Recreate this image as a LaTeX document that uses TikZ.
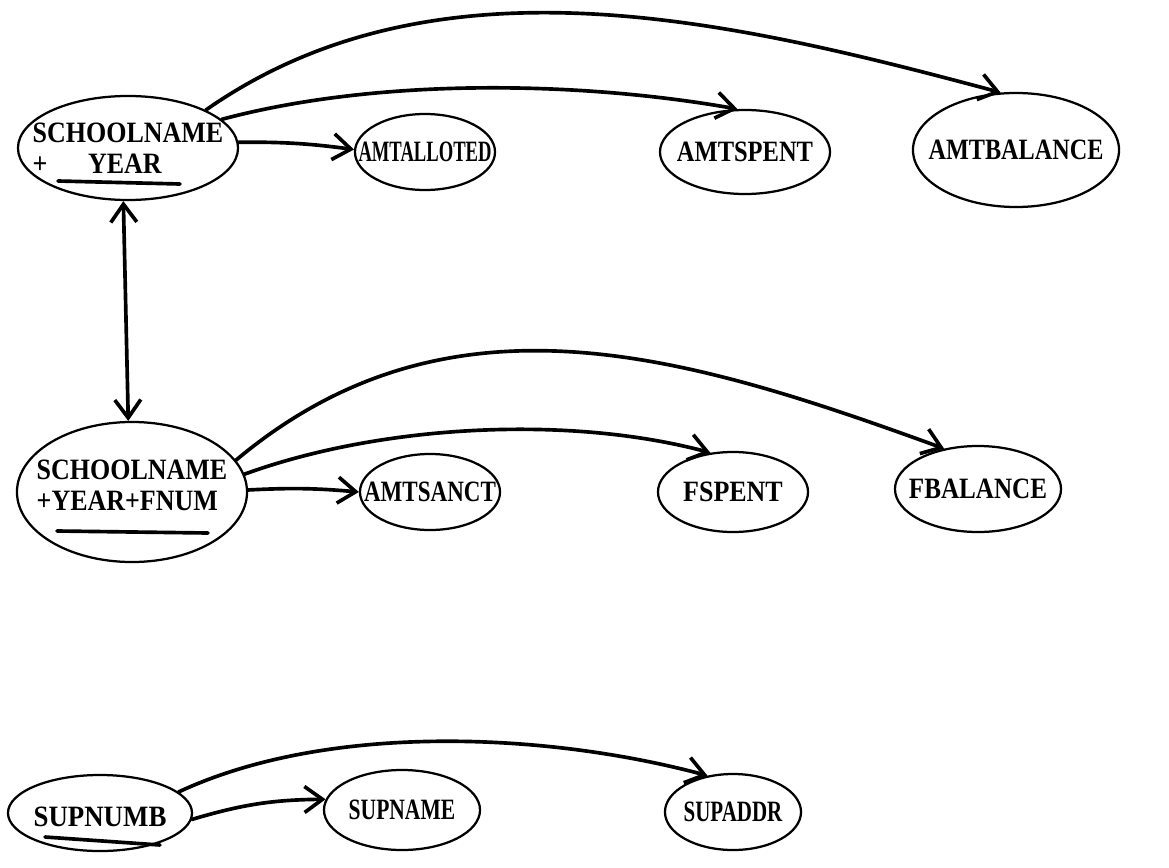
\documentclass[tikz,border=0pt]{standalone}
\usepackage{fontspec}
\usepackage{graphicx}
\usepackage{tikz}
\usetikzlibrary{shapes.geometric,arrows.meta}
\newfontfamily\labelfont{Liberation Serif}
\newcommand{\typed}[2]{\scalebox{#1}[1]{#2}}

\begin{document}
\begin{tikzpicture}[x=0.025cm, y=0.025cm,
    field/.style={ellipse, draw, line width=1.6pt, inner sep=0pt},
    every label/.style={inner sep=0pt, align=left,
      font={\labelfont\bfseries\fontsize{21pt}{22pt}\selectfont}},
    conn/.style={line width=2.6pt, line cap=round,
      -{Straight Barb[length=4.5mm,width=6.5mm]}},
    twoway/.style={line width=2.6pt, line cap=round,
      {Straight Barb[length=4.5mm,width=6.5mm]}-{Straight Barb[length=4.5mm,width=6.5mm]}},
    uline/.style={line width=2.6pt, line cap=round}]
  \useasboundingbox (0,0) rectangle (1169,-867);

  % school allotment row
  \node [field, minimum width=5.5cm, minimum height=2.6cm,
    label={center:\typed{0.88}{SCHOOLNAME}\\\typed{0.88}{+\hspace{1.15cm}YEAR}}] (key1) at (128,-148) {};
  \node [field, minimum width=3.5cm, minimum height=1.9cm,
    label={center:\typed{0.63}{AMTALLOTED}}] (allot) at (425,-152) {};
  \node [field, minimum width=4.25cm, minimum height=2.1cm,
    label={center:\typed{0.83}{AMTSPENT}}] (spent) at (745,-152) {};
  \node [field, minimum width=5.15cm, minimum height=2.85cm,
    label={center:\typed{0.82}{AMTBALANCE}}] (bal) at (1016,-150) {};
  \draw [uline] (58,-181) -- (180,-184);

  % fund row
  \node [field, minimum width=5.75cm, minimum height=3.5cm,
    label={[yshift=5pt]center:\typed{0.88}{SCHOOLNAME}\\\typed{0.88}{+YEAR+FNUM}}] (key2) at (132,-492) {};
  \node [field, minimum width=3.5cm, minimum height=1.9cm,
    label={center:\typed{0.78}{AMTSANCT}}] (sanct) at (430,-492) {};
  \node [field, minimum width=3.75cm, minimum height=2cm,
    label={center:\typed{0.88}{FSPENT}}] (fspent) at (733,-492) {};
  \node [field, minimum width=4.15cm, minimum height=2.15cm,
    label={center:\typed{0.85}{FBALANCE}}] (fbal) at (978,-489) {};
  \draw [uline] (57,-531) -- (208,-533);

  % supplier row
  \node [field, minimum width=4.6cm, minimum height=1.9cm,
    label={[yshift=-3pt]center:\typed{0.91}{SUPNUMB}}] (supnumb) at (100,-813) {};
  \node [field, minimum width=3.9cm, minimum height=2cm,
    label={center:\typed{0.73}{SUPNAME}}] (supname) at (402,-810) {};
  \node [field, minimum width=3.4cm, minimum height=1.9cm,
    label={center:\typed{0.71}{SUPADDR}}] (supaddr) at (733,-812) {};
  \draw [uline] (45,-837) -- (160,-845);

  % connectors
  \draw [conn] (key1.3) to[bend left=4] (allot.178);
  \draw [conn] (key1.17) to[out=15, in=170, looseness=0.8] (spent.100);
  \draw [conn] (key1.26) to[out=35, in=165, looseness=0.9] (bal.105);
  \draw [twoway] (key1.265) -- (key2.93);
  \draw [conn] (key2.1) to[bend left=4] (sanct.180);
  \draw [conn] (key2.9) to[out=20, in=165, looseness=0.8] (fspent.120);
  \draw [conn] (key2.17) to[out=40, in=160, looseness=1] (fbal.130);
  \draw [conn] (supnumb.356) to[bend left=8] (supname.172);
  \draw [conn] (supnumb.15) to[out=25, in=165, looseness=0.8] (supaddr.125);
\end{tikzpicture}
\end{document}
